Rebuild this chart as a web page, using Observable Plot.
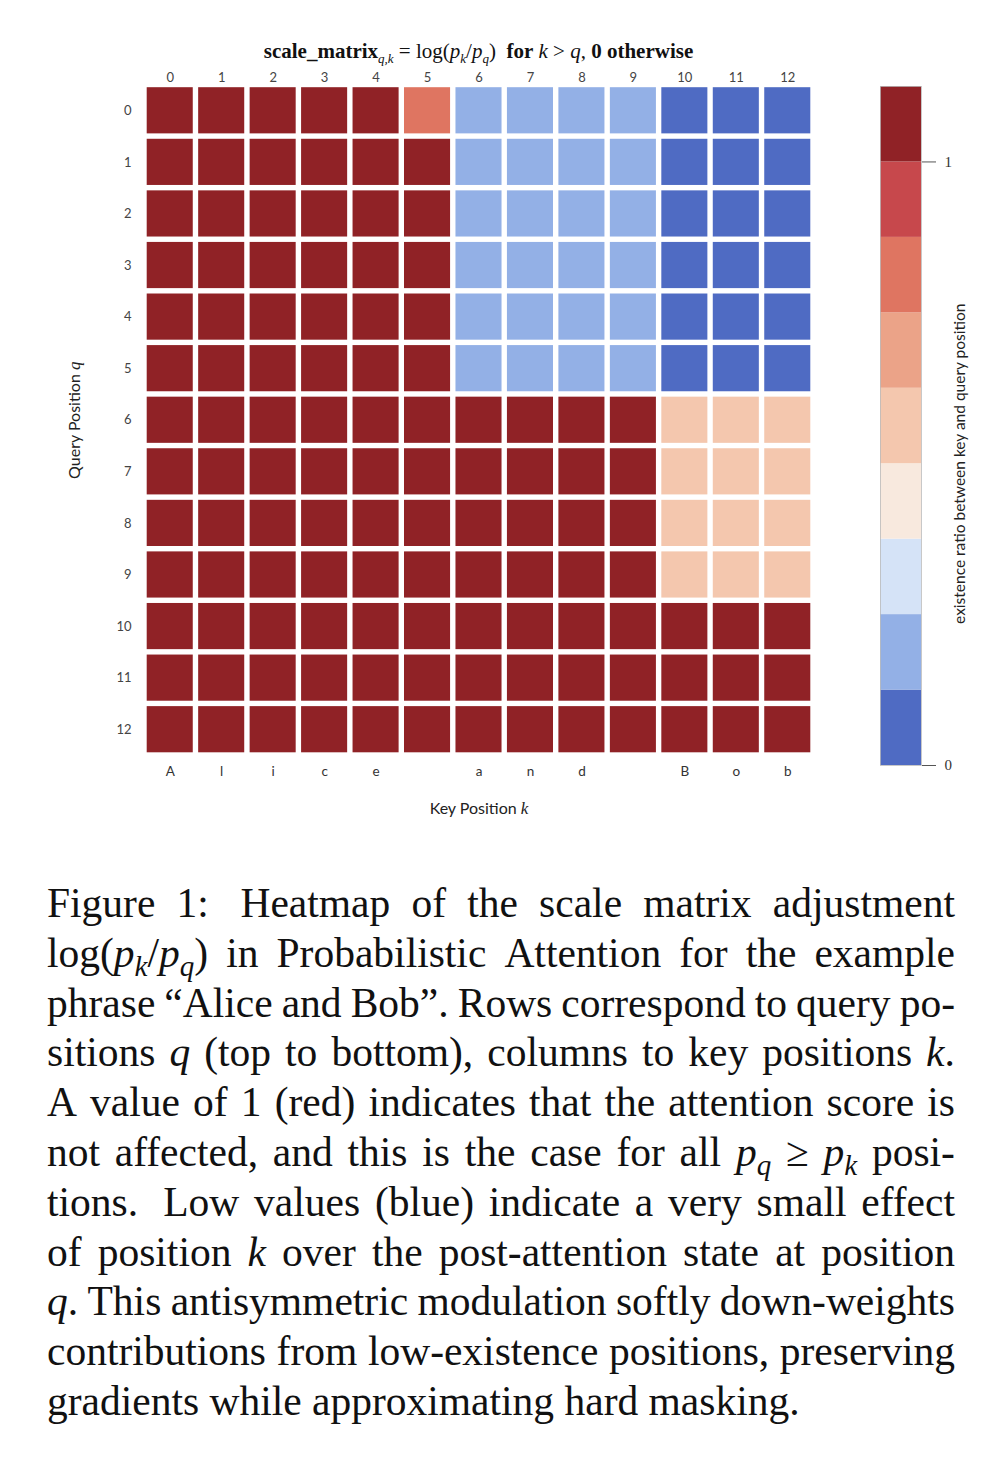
<!DOCTYPE html>
<html>
<head>
<meta charset="utf-8">
<script src="https://cdn.jsdelivr.net/npm/d3@7"></script>
<script src="https://cdn.jsdelivr.net/npm/@observablehq/plot@0.6"></script>
<style>
  html, body { margin: 0; padding: 0; background: #fff; }
  #page { position: relative; width: 1004px; height: 1472px; overflow: hidden; background: #fff; }
  #title { position: absolute; left: 144px; width: 669px; top: 39px; text-align: center;
           font-family: "Liberation Serif", "DejaVu Serif", serif; font-size: 21px; color: #111; z-index: 2; white-space: nowrap; }
  #title sub { font-size: 13px; }
  #heat { position: absolute; left: 0; top: 60px; }
  #cbar { position: absolute; left: 860px; top: 60px; }
  #caption { position: absolute; left: 47px; top: 879px; width: 908px;
             font-family: "Liberation Serif", "Times New Roman", serif; font-size: 41.5px; line-height: 49.8px; color: #111; }
  #caption .ln { display: flex; justify-content: space-between; white-space: nowrap; height: 49.8px; }
  #caption .last { white-space: nowrap; height: 49.8px; }
  #caption sub { font-size: 0.7em; line-height: 0; }
</style>
</head>
<body>
<div id="page">
  <div id="title"><b>scale_matrix</b><sub><i>q,k</i></sub> = log(<i>p<sub>k</sub></i>/<i>p<sub>q</sub></i>)&nbsp; <b>for</b> <i>k</i> &gt; <i>q</i>, <b>0 otherwise</b></div>
  <div id="heat"></div>
  <div id="cbar"></div>
  <div id="caption"></div>
</div>
<script>
// ---- data ----
const positions = [0,1,2,3,4,5,6,7,8,9,10,11,12];
const keyTokens = ["A","l","i","c","e"," ","a","n","d"," ","B","o","b"];
const scaleMatrix = [
  [1,1,1,1,1,0.8,0.2,0.2,0.2,0.2,0.1,0.1,0.1],
  [1,1,1,1,1,1,0.2,0.2,0.2,0.2,0.1,0.1,0.1],
  [1,1,1,1,1,1,0.2,0.2,0.2,0.2,0.1,0.1,0.1],
  [1,1,1,1,1,1,0.2,0.2,0.2,0.2,0.1,0.1,0.1],
  [1,1,1,1,1,1,0.2,0.2,0.2,0.2,0.1,0.1,0.1],
  [1,1,1,1,1,1,0.2,0.2,0.2,0.2,0.1,0.1,0.1],
  [1,1,1,1,1,1,1,1,1,1,0.5,0.5,0.5],
  [1,1,1,1,1,1,1,1,1,1,0.5,0.5,0.5],
  [1,1,1,1,1,1,1,1,1,1,0.5,0.5,0.5],
  [1,1,1,1,1,1,1,1,1,1,0.5,0.5,0.5],
  [1,1,1,1,1,1,1,1,1,1,1,1,1],
  [1,1,1,1,1,1,1,1,1,1,1,1,1],
  [1,1,1,1,1,1,1,1,1,1,1,1,1]
];
const binEdges = [0,0.125,0.25,0.375,0.5,0.625,0.75,0.875,1,1.125];
const binColors = ["#4f6bc3","#93b0e6","#d5e3f7","#f8e9de","#f4c7ae","#eba388","#df7561","#c7484c","#902226"];
const colorbarTicks = [0,1];
const colorbarLabel = "existence ratio between key and query position";

const captionLines = [
  "Figure 1:&nbsp; Heatmap of the scale matrix adjustment",
  "log(<i>p<sub>k</sub></i>/<i>p<sub>q</sub></i>) in Probabilistic Attention for the example",
  "phrase “Alice and Bob”. Rows correspond to query po-",
  "sitions <i>q</i> (top to bottom), columns to key positions <i>k</i>.",
  "A value of 1 (red) indicates that the attention score is",
  "not affected, and this is the case for all <i>p<sub>q</sub></i> ≥ <i>p<sub>k</sub></i> posi-",
  "tions.&nbsp; Low values (blue) indicate a very small effect",
  "of position <i>k</i> over the post-attention state at position",
  "<i>q</i>. This antisymmetric modulation softly down-weights",
  "contributions from low-existence positions, preserving",
  "gradients while approximating hard masking."
];

// ---- heatmap ----
const cells = [];
scaleMatrix.forEach((row, q) => row.forEach((v, k) => cells.push({q, k, v})));
const colorScale = {type: "threshold", domain: binEdges.slice(1, -1), range: binColors};

const heat = Plot.plot({
  width: 1004,
  height: 775,
  marginLeft: 144,
  marginRight: 191,
  marginTop: 24.5,
  marginBottom: 80,
  x: {type: "band", domain: positions, padding: 0, round: false},
  y: {type: "band", domain: positions, padding: 0, round: false},
  color: colorScale,
  style: {fontFamily: "Lato, 'Open Sans', sans-serif", fontSize: "13px", color: "#333", background: "transparent"},
  marks: [
    Plot.cell(cells, {x: "k", y: "q", fill: "v", inset: 2.7}),
    Plot.axisX({anchor: "top", tickSize: 0, tickPadding: 3, label: null, fill: "#444", fontSize: 13}),
    Plot.axisX({anchor: "bottom", tickSize: 0, tickPadding: 11, tickFormat: k => keyTokens[k], fontSize: 13.5,
                label: "Key Position k", labelAnchor: "center", labelArrow: "none", labelOffset: 58}),
    Plot.axisY({anchor: "left", tickSize: 0, tickPadding: 13, fill: "#444", fontSize: 13,
                label: "Query Position q", labelAnchor: "center", labelArrow: "none", labelOffset: 76})
  ]
});
document.getElementById("heat").appendChild(heat);

// italic math variables in axis labels
d3.select(heat).selectAll("text").each(function() {
  const t = d3.select(this);
  const s = t.text();
  if (s === "Key Position k" || s === "Query Position q") {
    const base = s.slice(0, -1), v = s.slice(-1);
    t.text(null);
    t.append("tspan").text(base);
    t.append("tspan").attr("font-style", "italic").attr("font-family", "'Liberation Serif', serif").attr("font-size", 17).text(v);
    t.attr("font-size", 16).attr("fill", "#222");
  }
});

// ---- colorbar ----
const bins = binColors.map((c, i) => ({lo: binEdges[i], hi: binEdges[i + 1], mid: (binEdges[i] + binEdges[i + 1]) / 2}));
const cbar = Plot.plot({
  width: 144,
  height: 725,
  marginLeft: 20,
  marginRight: 83,
  marginTop: 26,
  marginBottom: 20,
  y: {domain: [0, 1.125]},
  color: colorScale,
  style: {fontFamily: "'Liberation Serif', serif", fontSize: "15px", color: "#333", background: "transparent"},
  marks: [
    Plot.rect(bins, {y1: "lo", y2: "hi", fill: "mid"}),
    Plot.frame({stroke: "#bbb", strokeWidth: 0.8}),
    Plot.axisY({anchor: "right", ticks: colorbarTicks, tickSize: 14, tickPadding: 9, tickFormat: d => String(d), stroke: "#555",
                fontSize: 15, fontFamily: "'Liberation Serif', serif", label: null}),
    Plot.text([d3.mean(colorbarTicks)], {y: d => d, text: () => colorbarLabel, frameAnchor: "right", textAnchor: "middle", dx: 39, rotate: -90,
               fontFamily: "Lato, 'Open Sans', sans-serif", fontSize: 15.5, fill: "#222"})
  ]
});
document.getElementById("cbar").appendChild(cbar);

// ---- caption ----
const cap = document.getElementById("caption");
captionLines.forEach((line, i) => {
  const div = document.createElement("div");
  if (i === captionLines.length - 1) {
    div.className = "last";
    div.innerHTML = line;
  } else {
    div.className = "ln";
    line.split(/ +/).forEach(w => {
      const s = document.createElement("span");
      s.innerHTML = w;
      div.appendChild(s);
    });
  }
  cap.appendChild(div);
});
</script>
</body>
</html>
